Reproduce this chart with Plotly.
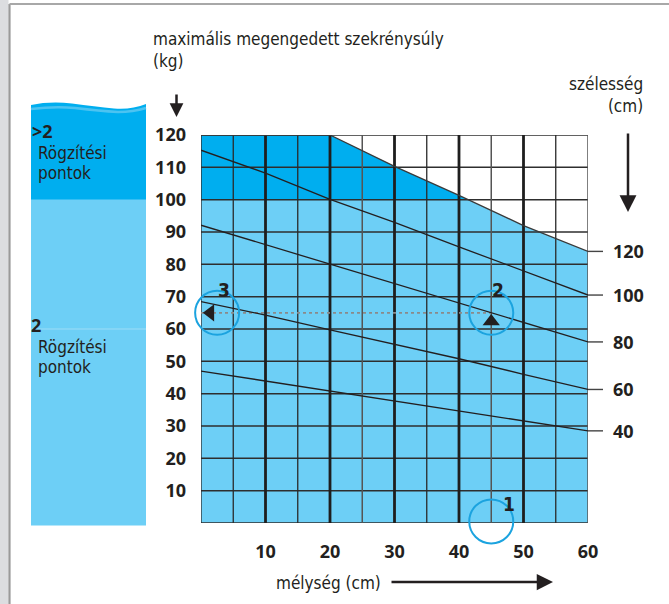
import numpy as np
import plotly.graph_objects as go

# ---------------------------------------------------------------
# Data: maximum allowed cabinet load (kg) vs. depth (cm), per width
# ---------------------------------------------------------------
depth = [0, 10, 20, 30, 40, 50, 60]
load_w40 = [47.0, 43.9, 40.9, 37.8, 34.8, 31.6, 28.5]
load_w60 = [68.5, 64.3, 59.7, 55.3, 50.8, 46.0, 41.3]
load_w80 = [92.1, 86.1, 80.0, 74.1, 68.0, 62.0, 56.0]
load_w100 = [115.3, 108.2, 100.1, 93.0, 85.4, 78.0, 70.5]
load_w120 = [120.0, 120.0, 120.0, 110.3, 101.3, 92.0, 84.0]  # capped at 120 kg

width_labels = ["40", "60", "80", "100", "120"]
width_curves = [load_w40, load_w60, load_w80, load_w100, load_w120]

x_ticks = [10, 20, 30, 40, 50, 60]
y_ticks = [10, 20, 30, 40, 50, 60, 70, 80, 90, 100, 110, 120]

two_point_limit = 100  # above this load more than 2 fixing points are needed

# worked example: depth 45 cm, load 65 kg
example_depth = 45
example_load = 65
step_marks = [("3", 2.5, example_load), ("2", example_depth, example_load), ("1", example_depth, 0.5)]

# ---------------------------------------------------------------
# Styling
# ---------------------------------------------------------------
W, H = 669, 604
L, R, T, B = 201, 81, 135, 81
PW, PH = W - L - R, H - T - B

LIGHT = "#6dcff6"
DARK = "#00aeef"
INK = "#231f20"
RING = "#1ba3df"
NUM_FONT = "Open Sans, Noto Sans, DejaVu Sans, sans-serif"
COND_FONT = "Liberation Sans Narrow, DejaVu Sans Condensed, Arial Narrow, sans-serif"


def px(xp):
    """figure pixel x -> paper x"""
    return (xp - L) / PW


def py(yp):
    """figure pixel y -> paper y"""
    return (H - B - yp) / PH


fig = go.Figure()

# admissible area (light) and the >2 fixing-point band (dark)
fig.add_trace(go.Scatter(
    x=depth, y=load_w120, mode="lines", line=dict(width=0),
    fill="tozeroy", fillcolor=LIGHT, hoverinfo="skip", showlegend=False))

d_arr = np.array(depth, dtype=float)
c_arr = np.array(load_w120, dtype=float)
x_cross = float(np.interp(two_point_limit, c_arr[::-1], d_arr[::-1]))
keep = c_arr >= two_point_limit
band_x = [0.0] + list(d_arr[keep]) + [x_cross]
band_y = [two_point_limit] + list(c_arr[keep]) + [two_point_limit]
fig.add_trace(go.Scatter(
    x=band_x, y=band_y, mode="lines", line=dict(width=0),
    fill="toself", fillcolor=DARK, hoverinfo="skip", showlegend=False))


def grid_trace(xs, ys, width, color):
    fig.add_trace(go.Scatter(x=xs, y=ys, mode="lines",
                             line=dict(color=color, width=width),
                             hoverinfo="skip", showlegend=False))


# horizontal grid
hx, hy = [], []
for v in range(0, 121, 10):
    hx += [0, 60, None]
    hy += [v, v, None]
grid_trace(hx, hy, 1.5, "#2e2e2e")

# vertical grid: thin every 5 cm, heavy every 10 cm
thin_x, thin_y, grey_x, grey_y, heavy_x, heavy_y = [], [], [], [], [], []
for v in range(0, 61, 5):
    if v == 0:
        thin_x += [v, v, None]; thin_y += [0, 120, None]
    elif v in (25, 45, 60):
        grey_x += [v, v, None]; grey_y += [0, 120, None]
    elif v % 10 == 0:
        heavy_x += [v, v, None]; heavy_y += [0, 120, None]
    else:
        thin_x += [v, v, None]; thin_y += [0, 120, None]
grid_trace(thin_x, thin_y, 1.3, "#2a2a2a")
grid_trace(grey_x, grey_y, 1.5, "#555555")
grid_trace(heavy_x, heavy_y, 2.8, "#1e1e1e")

# guide line of the example
fig.add_trace(go.Scatter(
    x=[0, example_depth], y=[example_load, example_load], mode="lines",
    line=dict(color="#8a8a8a", width=1.6, dash="dot"),
    hoverinfo="skip", showlegend=False))

# width curves
for lab, curve in zip(width_labels, width_curves):
    fig.add_trace(go.Scatter(
        x=depth, y=curve, mode="lines",
        line=dict(color="#3a3a3a" if lab == "120" else INK, width=1.3),
        hoverinfo="skip", showlegend=False))

# example rings, arrows and step numbers
fig.add_trace(go.Scatter(
    x=[m[1] for m in step_marks], y=[m[2] for m in step_marks], mode="markers",
    marker=dict(symbol="circle-open", size=44, color=RING, line=dict(color=RING, width=2)),
    cliponaxis=False, hoverinfo="skip", showlegend=False))
fig.add_trace(go.Scatter(
    x=[1.45], y=[example_load], mode="markers",
    marker=dict(symbol="triangle-left", size=15, color=INK),
    hoverinfo="skip", showlegend=False))
fig.add_trace(go.Scatter(
    x=[example_depth], y=[62.3], mode="markers",
    marker=dict(symbol="triangle-up", size=15, color=INK),
    hoverinfo="skip", showlegend=False))

annotations = []
for lab, xx, yy in step_marks:
    dx = 1.1 if lab != "1" else 2.7
    annotations.append(dict(
        x=xx + dx, y=yy + (7.0 if lab != "1" else 5.3), xref="x", yref="y",
        text=f"<b>{lab}</b>", showarrow=False,
        font=dict(family=COND_FONT, size=19, color=INK)))

shapes = []
# width labels with short leaders on the right
for lab, curve in zip(width_labels, width_curves):
    yv = curve[-1]
    shapes.append(dict(type="line", xref="paper", yref="y",
                       x0=1.0, x1=px(603), y0=yv, y1=yv,
                       line=dict(color="#444444", width=1.4)))
    annotations.append(dict(
        x=px(611), y=yv, xref="paper", yref="y", xanchor="left", yanchor="middle",
        text=f"<b>{lab}</b>", showarrow=False,
        font=dict(family=NUM_FONT, size=18, color=INK)))

# page frame
shapes.append(dict(type="rect", xref="paper", yref="paper",
                   x0=px(0), x1=px(8.5), y0=py(H), y1=py(0),
                   fillcolor="#dcdde0", line=dict(width=0), layer="below"))
shapes.append(dict(type="line", xref="paper", yref="paper",
                   x0=px(9.5), x1=px(9.5), y0=py(H), y1=py(4),
                   line=dict(color="#9a9a9a", width=2.2)))
shapes.append(dict(type="line", xref="paper", yref="paper",
                   x0=px(9.5), x1=px(W), y0=py(4), y1=py(4),
                   line=dict(color="#a8a8a8", width=2)))

# side panel: fixing points
shapes.append(dict(type="rect", xref="paper", yref="paper",
                   x0=px(31), x1=px(146), y0=py(525.5), y1=py(199),
                   fillcolor=LIGHT, line=dict(width=0), layer="below"))
wave = "M {a},{b} L {c},{d} Q {e},{f} {g},{h} Q {i},{j} {k},{l} Q {m},{n} {o},{p} L {q},{r} Z".format(
    a=px(31), b=py(199.5), c=px(31), d=py(105),
    e=px(50), f=py(101), g=px(72), h=py(103.5),
    i=px(95), j=py(106.5), k=px(114), l=py(108.5),
    m=px(131), n=py(110), o=px(146), p=py(104),
    q=px(146), r=py(199.5))
shapes.append(dict(type="path", xref="paper", yref="paper", path=wave,
                   fillcolor=DARK, line=dict(width=0), layer="below"))
wave2 = "M {a},{b} Q {c},{d} {e},{f} Q {g},{h} {i},{j} Q {k},{l} {m},{n}".format(
    a=px(31), b=py(109), c=px(55), d=py(106), e=px(75), f=py(108),
    g=px(100), h=py(111), i=px(118), j=py(112), k=px(133), l=py(112), m=px(146), n=py(108))
shapes.append(dict(type="path", xref="paper", yref="paper", path=wave2,
                   line=dict(color="#4cc3f1", width=2.5), layer="below"))
shapes.append(dict(type="line", xref="paper", yref="paper",
                   x0=px(31), x1=px(146), y0=py(329), y1=py(329),
                   line=dict(color="#9edcf7", width=1), layer="below"))

panel_texts = [
    ("<b>&gt;2</b>", 30, 131, NUM_FONT, 18),
    ("Rögzítési", 36, 153, COND_FONT, 17),
    ("pontok", 36, 173, COND_FONT, 17),
    ("<b>2</b>", 29, 325, NUM_FONT, 18),
    ("Rögzítési", 36, 347, COND_FONT, 17),
    ("pontok", 36, 367, COND_FONT, 17),
]
for txt, xp_, yp_, fam, sz in panel_texts:
    annotations.append(dict(x=px(xp_), y=py(yp_), xref="paper", yref="paper",
                            xanchor="left", yanchor="middle", text=txt, showarrow=False,
                            font=dict(family=fam, size=sz, color=INK)))

# axis titles
annotations.append(dict(x=px(151), y=py(50), xref="paper", yref="paper",
                        xanchor="left", yanchor="middle", align="left", showarrow=False,
                        text="maximális megengedett szekrénysúly<br>(kg)",
                        font=dict(family=COND_FONT, size=17, color=INK)))
annotations.append(dict(x=px(645), y=py(95), xref="paper", yref="paper",
                        xanchor="right", yanchor="middle", align="right", showarrow=False,
                        text="szélesség<br>(cm)",
                        font=dict(family=COND_FONT, size=17, color=INK)))
annotations.append(dict(x=px(328), y=py(583), xref="paper", yref="paper",
                        xanchor="center", yanchor="middle", showarrow=False,
                        text="mélység (cm)", font=dict(family=COND_FONT, size=17, color=INK)))

# direction arrows
annotations.append(dict(x=px(176.5), y=py(117), xref="paper", yref="paper",
                        ax=0, ay=-24, text="", showarrow=True,
                        arrowhead=2, arrowsize=1.1, arrowwidth=2.5, arrowcolor=INK))
annotations.append(dict(x=px(628), y=py(212), xref="paper", yref="paper",
                        ax=0, ay=-80, text="", showarrow=True,
                        arrowhead=2, arrowsize=1.35, arrowwidth=2.5, arrowcolor=INK))
annotations.append(dict(x=px(553), y=py(582), xref="paper", yref="paper",
                        ax=-163, ay=0, text="", showarrow=True,
                        arrowhead=2, arrowsize=1.25, arrowwidth=2.6, arrowcolor=INK))

fig.update_layout(
    width=W, height=H,
    margin=dict(l=L, r=R, t=T, b=B, pad=0),
    paper_bgcolor="white", plot_bgcolor="white",
    showlegend=False,
    shapes=shapes, annotations=annotations,
    xaxis=dict(range=[0, 60], tickvals=x_ticks, ticktext=[str(v) for v in x_ticks],
               showgrid=False, zeroline=False, showline=False, ticks="",
               ticklabelstandoff=16, fixedrange=True,
               tickfont=dict(family=NUM_FONT, size=18, color=INK, weight="bold")),
    yaxis=dict(range=[0, 120], tickvals=y_ticks, ticktext=[str(v) for v in y_ticks],
               showgrid=False, zeroline=False, showline=False, ticks="",
               ticklabelstandoff=14, fixedrange=True,
               tickfont=dict(family=NUM_FONT, size=18, color=INK, weight="bold")),
)

fig.write_html("out.html")
